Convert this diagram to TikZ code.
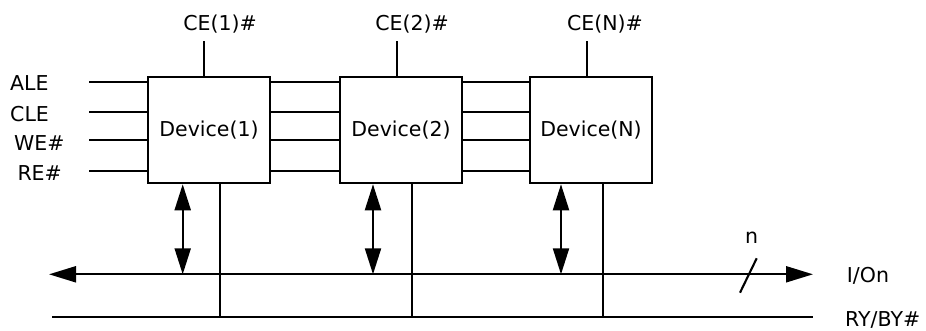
\documentclass[tikz,border=0pt]{standalone}
\usepackage{fontspec}
\setmainfont{DejaVu Sans}
\usetikzlibrary{arrows.meta}
\begin{document}
\begin{tikzpicture}[x=1pt,y=-1pt,
  wire/.style={line width=2.1pt},
  devbox/.style={draw,line width=2.5pt,minimum width=122pt,minimum height=106pt,inner sep=0pt,font=\fontsize{20.5}{24}\selectfont},
  lbl/.style={inner sep=0pt,font=\fontsize{20.5}{24}\selectfont},
  bidir/.style={wire,{Triangle[length=26pt,width=16pt]}-{Triangle[length=26pt,width=16pt]}}]
\useasboundingbox (0,0) rectangle (926,330);
% devices
\node[devbox] (d1) at (209,130) {Device(1)};
\node[devbox] (d2) at (401,130) {Device(2)};
\node[devbox] (dN) at (591,130) {Device(N)};
% CE labels and lines
\node[lbl,anchor=base] (ce1) at (220,30) {CE(1)\#};
\node[lbl,anchor=base] (ce2) at (412,30) {CE(2)\#};
\node[lbl,anchor=base] (ceN) at (605,30) {CE(N)\#};
\coordinate (c1) at (204,41);
\coordinate (c2) at (397,41);
\coordinate (cN) at (587,41);
\draw[wire] (c1) -- (c1 |- d1.north);
\draw[wire] (c2) -- (c2 |- d2.north);
\draw[wire] (cN) -- (cN |- dN.north);
% left signal labels
\node[lbl,anchor=base west] (ale) at (10,90) {ALE};
\node[lbl,anchor=base west] (cle) at (10,121.7) {CLE};
\node[lbl,anchor=base west] (we) at (14,150.7) {WE\#};
\node[lbl,anchor=base west] (re) at (17.3,180) {RE\#};
% signal lines
\foreach \yy/\nm in {81.7/a,112.3/b,140.3/c,170.7/d}{
  \coordinate (s\nm) at (89,\yy);
  \draw[wire] (s\nm) -- (s\nm -| d1.west);
  \draw[wire] (s\nm -| d1.east) -- (s\nm -| d2.west);
  \draw[wire] (s\nm -| d2.east) -- (s\nm -| dN.west);
}
% buses
\coordinate (ioL) at (49,274.3);
\coordinate (ioR) at (813,274.3);
\coordinate (ryL) at (52,316.7);
\coordinate (ryR) at (813,316.7);
\draw[wire,{Triangle[length=27pt,width=16pt]}-{Triangle[length=27pt,width=16pt]}] (ioL) -- (ioR);
\draw[wire] (ryL) -- (ryR);
% device to buses
\draw[bidir] ([xshift=-26.3pt]d1.south) -- ([xshift=-26.3pt]d1.south |- ioL);
\draw[bidir] ([xshift=-28pt]d2.south) -- ([xshift=-28pt]d2.south |- ioL);
\draw[bidir] ([xshift=-30pt]dN.south) -- ([xshift=-30pt]dN.south |- ioL);
\draw[wire] ([xshift=11.3pt]d1.south) -- ([xshift=11.3pt]d1.south |- ryL);
\draw[wire] ([xshift=11pt]d2.south) -- ([xshift=11pt]d2.south |- ryL);
\draw[wire] ([xshift=11.7pt]dN.south) -- ([xshift=11.7pt]dN.south |- ryL);
% bus width mark
\coordinate (sl1) at (740,292.7);
\coordinate (sl2) at (756.7,258.3);
\draw[wire] (sl1) -- (sl2);
\node[lbl,anchor=base] (n) at (751.5,243.3) {n};
% bus labels
\node[lbl,anchor=base west] (io) at (846.7,282.3) {I/On};
\node[lbl,anchor=base west] (ry) at (845,326) {RY/BY\#};
\end{tikzpicture}
\end{document}
